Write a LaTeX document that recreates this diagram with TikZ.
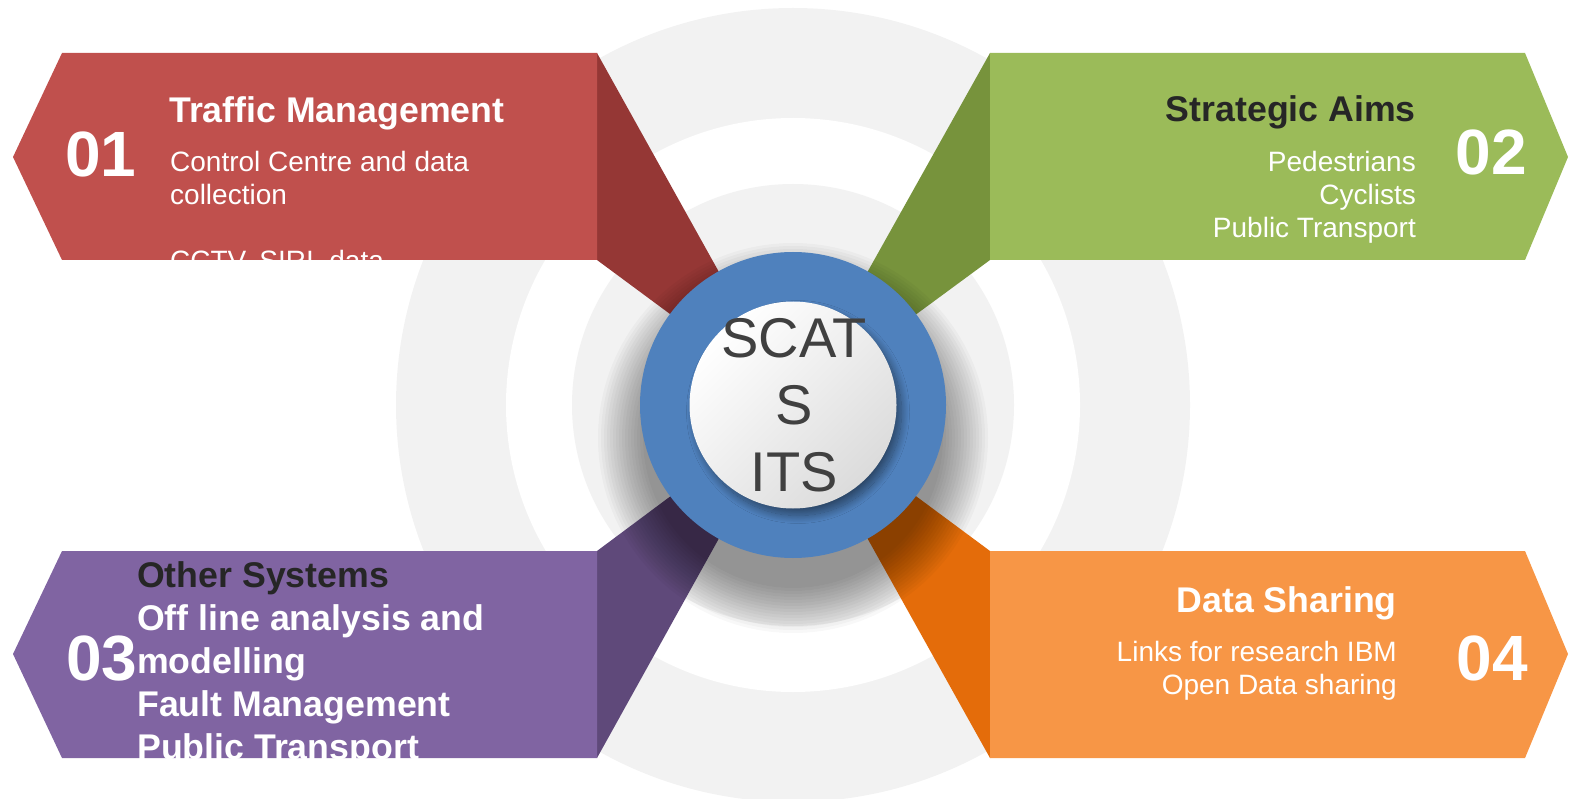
\documentclass[tikz,border=0pt]{standalone}
\usepackage{fontspec}
\setmainfont{Liberation Sans}
\usetikzlibrary{shadows.blur}

\definecolor{ringgray}{HTML}{F2F2F2}
\definecolor{redbanner}{HTML}{C0504D}
\definecolor{reddark}{HTML}{953735}
\definecolor{greenbanner}{HTML}{9BBB59}
\definecolor{greendark}{HTML}{77933C}
\definecolor{purplebanner}{HTML}{8064A2}
\definecolor{purpledark}{HTML}{5F497A}
\definecolor{orangebanner}{HTML}{F79646}
\definecolor{orangedark}{HTML}{E46C0A}
\definecolor{ringblue}{HTML}{4F81BD}
\definecolor{textdark}{HTML}{262626}
\definecolor{textgray}{HTML}{404040}

\begin{document}
\begin{tikzpicture}[x=1pt, y=-1pt,
	title/.style={inner sep=0pt, font=\fontsize{35.7}{40}\selectfont\bfseries},
	body/.style={inner sep=0pt, text=white, font=\fontsize{28}{33}\selectfont},
	number/.style={inner sep=0pt, text=white, font=\fontsize{64}{64}\selectfont\bfseries}]

	\useasboundingbox (0,0) rectangle (1570,799);
	\clip (0,0) rectangle (1570,799);

	% background rings
	\fill[ringgray] (793,405) circle (397);
	\fill[white] (793,405) circle (287);
	\fill[ringgray] (793,405) circle (221);

	% folds behind the hub
	\fill[reddark] (597,53) -- (793,405) -- (597,260) -- cycle;
	\fill[greendark] (990,53) -- (793,405) -- (990,260) -- cycle;
	\fill[purpledark] (597,551) -- (793,405) -- (597,758) -- cycle;
	\fill[orangedark] (990,551) -- (793,405) -- (990,758) -- cycle;

	% banners
	\fill[redbanner] (62,53) -- (597,53) -- (597,260) -- (62,260) -- (13,157) -- cycle;
	\fill[greenbanner] (990,53) -- (1525,53) -- (1568,157) -- (1525,260) -- (990,260) -- cycle;
	\fill[purplebanner] (62,551) -- (597,551) -- (597,758) -- (62,758) -- (13,654) -- cycle;
	\fill[orangebanner] (990,551) -- (1525,551) -- (1568,654) -- (1525,758) -- (990,758) -- cycle;

	% soft shadow under the hub
	\foreach \r in {150,153,...,195}
		\fill[black, opacity=0.028] (793,438) circle (\r);

	% hub
	\node[circle, inner sep=0pt, minimum size=306pt, fill=ringblue] (hub) at (793,405) {};
	\node[circle, inner sep=0pt, minimum size=207pt, top color=white, bottom color=black!14, shading angle=45,
		blur shadow={shadow xshift=5pt, shadow yshift=-7pt, shadow blur radius=8pt, shadow opacity=45, shadow blur steps=20}]
		(core) at (hub) {};
	\node[inner sep=0pt, align=center, text=textgray, font=\fontsize{56}{67}\selectfont]
		(scats) at (794,405) {SCAT\\S\\ITS};

	%draw 01
	\node[number, anchor=base west] (num1) at (65,177) {01};
	\node[title, text=white, anchor=base west] (traffic) at (169,123) {Traffic Management};
	\begin{scope}
		\clip (62,53) rectangle (597,260);
		\node[body, align=left, anchor=base west] (trafficlist) at (170,271)
			{Control Centre and data\\collection\\[33pt]CCTV, SIRI, data};
	\end{scope}

	%draw 02
	\node[number, anchor=base east] (num2) at (1527,175) {02};
	\node[title, text=textdark, anchor=base east] (aims) at (1416,122) {Strategic Aims};
	\node[body, align=right, anchor=base east] (aimslist) at (1416,238)
		{Pedestrians\\Cyclists\\Public Transport};

	%draw 03
	\node[number, anchor=base west] (num3) at (66,680) {03};
	\begin{scope}
		\clip (62,551) rectangle (597,758);
		\node[inner sep=0pt, text=white, font=\fontsize{35.7}{43}\selectfont\bfseries, align=left, anchor=base west]
			(otherlist) at (137,759)
			{\textcolor{textdark}{Other Systems}\\Off line analysis and\\modelling\\Fault Management\\Public Transport};
	\end{scope}

	%draw 04
	\node[number, anchor=base east] (num4) at (1528,680) {04};
	\node[title, text=white, anchor=base east] (sharing) at (1397,612) {Data Sharing};
	\node[body, align=right, anchor=base east] (sharinglist) at (1397,694)
		{Links for research IBM\\Open Data sharing};

\end{tikzpicture}
\end{document}
